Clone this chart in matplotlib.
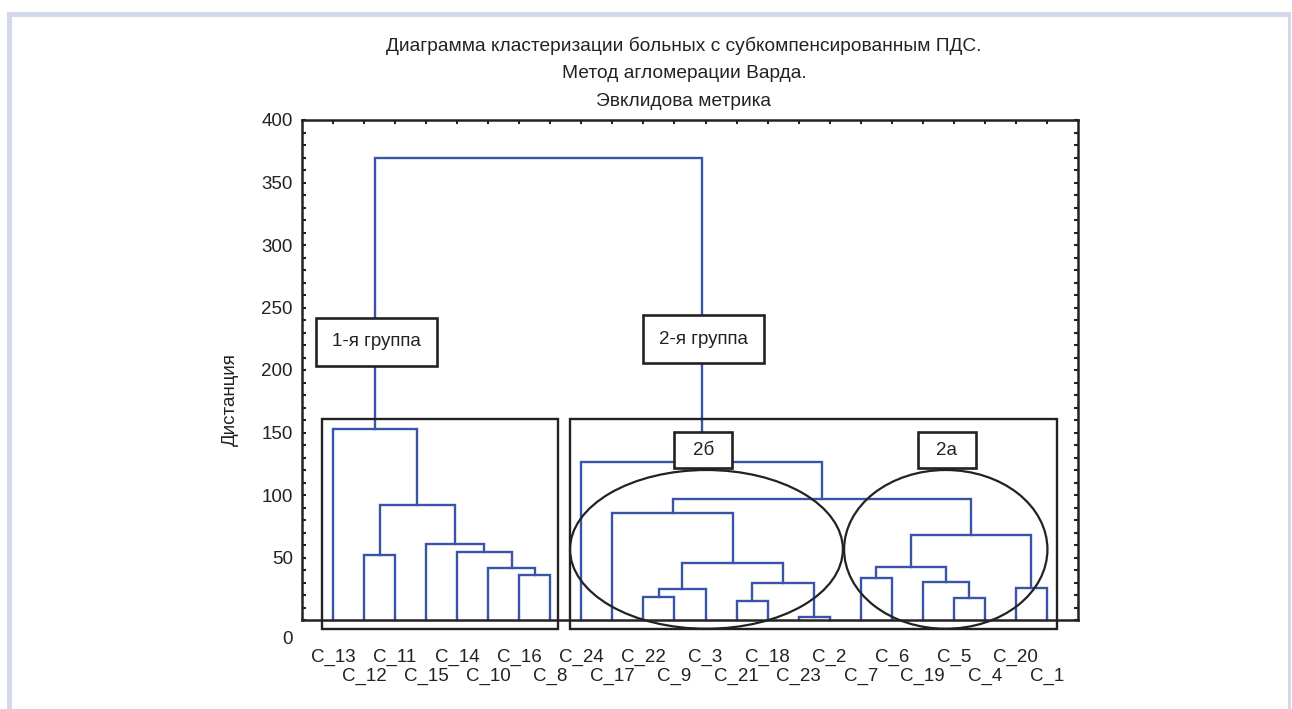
import matplotlib
matplotlib.use("Agg")
import matplotlib.pyplot as plt
from matplotlib.patches import Rectangle, Ellipse
from matplotlib.ticker import MultipleLocator, FixedLocator

plt.rcParams["font.family"] = ["Liberation Sans", "DejaVu Sans"]

# leaf order along the x axis
leaves = ["C_13", "C_12", "C_11", "C_15", "C_14", "C_10", "C_16", "C_8",
          "C_24", "C_17", "C_22", "C_9", "C_3", "C_21", "C_18", "C_23",
          "C_2", "C_7", "C_6", "C_19", "C_5", "C_4", "C_20", "C_1"]

# Ward linkage steps: (new cluster, left child, right child, distance)
merges = [
    ("g1a", "C_16", "C_8", 36.0),
    ("g1b", "C_10", "g1a", 42.0),
    ("g1c", "C_14", "g1b", 54.5),
    ("g1d", "C_15", "g1c", 61.0),
    ("g1e", "C_12", "C_11", 52.0),
    ("g1f", "g1e", "g1d", 92.0),
    ("g1", "C_13", "g1f", 152.5),
    ("b1", "C_22", "C_9", 18.5),
    ("b2", "b1", "C_3", 24.5),
    ("b3", "C_21", "C_18", 15.0),
    ("b4", "C_23", "C_2", 2.7),
    ("b5", "b3", "b4", 29.3),
    ("b6", "b2", "b5", 45.3),
    ("g2b", "C_17", "b6", 85.3),
    ("a1", "C_7", "C_6", 33.3),
    ("a2", "C_5", "C_4", 18.0),
    ("a3", "C_19", "a2", 30.4),
    ("a4", "a1", "a3", 42.7),
    ("a5", "C_20", "C_1", 26.0),
    ("g2a", "a4", "a5", 68.0),
    ("g2ab", "g2b", "g2a", 97.0),
    ("g2", "C_24", "g2ab", 126.4),
    ("root", "g1", "g2", 370.0),
]

title_lines = ["Диаграмма кластеризации больных с субкомпенсированным ПДС.",
               "Метод агломерации Варда.",
               "Эвклидова метрика"]
y_label = "Дистанция"
y_ticks = [0, 50, 100, 150, 200, 250, 300, 350, 400]

# group labels: text, box x0, x1, y0, y1
label_boxes = [
    ("1-я группа", 0.44, 4.34, 203.4, 241.4),
    ("2-я группа", 10.97, 14.89, 205.4, 244.0),
    ("2б", 12.0, 13.85, 121.4, 150.2),
    ("2а", 19.84, 21.71, 121.4, 150.2),
]
group_frames = [(0.634, 8.25, -7.0, 160.5), (8.64, 24.31, -7.0, 160.5)]
# subgroup ellipses: centre x, centre y, width, height
subgroup_ellipses = [(13.03, 56.5, 8.79, 127.0), (20.74, 56.5, 6.55, 127.0)]

BLUE = "#3a54a8"
INK = "#222222"
FS = 13.5

W, H = 1292, 709
fig = plt.figure(figsize=(W / 100, H / 100), dpi=100)
ax = fig.add_axes([302 / W, 1 - 620 / H, 776 / W, 500 / H])

# page border
border = "#d3d8ea"
for x0, y0, x1, y1 in [(7, 12, 1291, 17), (7, 12, 12, 709), (1288, 12, 1291, 709)]:
    fig.patches.append(Rectangle((x0 / W, 1 - y1 / H), (x1 - x0) / W, (y1 - y0) / H,
                                 transform=fig.transFigure, color=border, lw=0))

# dendrogram
pos = {name: i + 1 for i, name in enumerate(leaves)}
height = {name: 0.0 for name in leaves}
for name, left, right, h in merges:
    ax.plot([pos[left], pos[left], pos[right], pos[right]],
            [height[left], h, h, height[right]],
            color=BLUE, lw=1.7, solid_joinstyle="miter", zorder=2, clip_on=False)
    pos[name] = (pos[left] + pos[right]) / 2
    height[name] = h

for x0, x1, y0, y1 in group_frames:
    ax.add_patch(Rectangle((x0, y0), x1 - x0, y1 - y0, fill=False, ec=INK,
                           lw=1.7, zorder=3, clip_on=False))

for cx, cy, w, h in subgroup_ellipses:
    ax.add_patch(Ellipse((cx, cy), w, h, fill=False, ec=INK, lw=1.6,
                         zorder=4, clip_on=False))

for text, x0, x1, y0, y1 in label_boxes:
    ax.add_patch(Rectangle((x0, y0), x1 - x0, y1 - y0, fc="white", ec=INK,
                           lw=1.9, zorder=5))
    ax.text((x0 + x1) / 2, (y0 + y1) / 2, text, ha="center", va="center",
            fontsize=FS, color=INK, zorder=6)

ax.set_xlim(0, len(leaves) + 1)
ax.set_ylim(0, 400)

for side in ax.spines.values():
    side.set_linewidth(1.8)
    side.set_color(INK)

ax.set_yticks(y_ticks)
ax.set_yticklabels(["" if v == 0 else str(v) for v in y_ticks])
ax.yaxis.set_minor_locator(MultipleLocator(10))
ax.annotate("0", xy=(0, 0), xycoords="axes fraction", xytext=(-9, -20),
            textcoords="offset pixels", ha="right", va="center",
            fontsize=FS, color=INK)

upper = list(range(1, len(leaves) + 1, 2))
lower = list(range(2, len(leaves) + 1, 2))
ax.xaxis.set_major_locator(FixedLocator(upper))
ax.xaxis.set_minor_locator(FixedLocator(lower))
ax.set_xticklabels([leaves[i - 1] for i in upper])
ax.set_xticklabels([leaves[i - 1] for i in lower], minor=True)

ax.tick_params(which="both", direction="in", top=True, right=True,
               color=INK, width=1.5, length=3, labelsize=FS, labelcolor=INK)
ax.tick_params(axis="y", which="both", pad=6.5)
ax.tick_params(axis="x", which="major", pad=20.5)
ax.tick_params(axis="x", which="minor", pad=34.5)

title_y = [46, 74, 101]
for line, ty in zip(title_lines, title_y):
    fig.text(684 / W, 1 - ty / H, line, ha="center", va="center",
             fontsize=13.8, color=INK)
fig.text(230 / W, 1 - 400 / H, y_label, rotation=90, ha="center", va="center",
         fontsize=FS, color=INK)

fig.savefig("out.png", dpi=100, facecolor="white")
